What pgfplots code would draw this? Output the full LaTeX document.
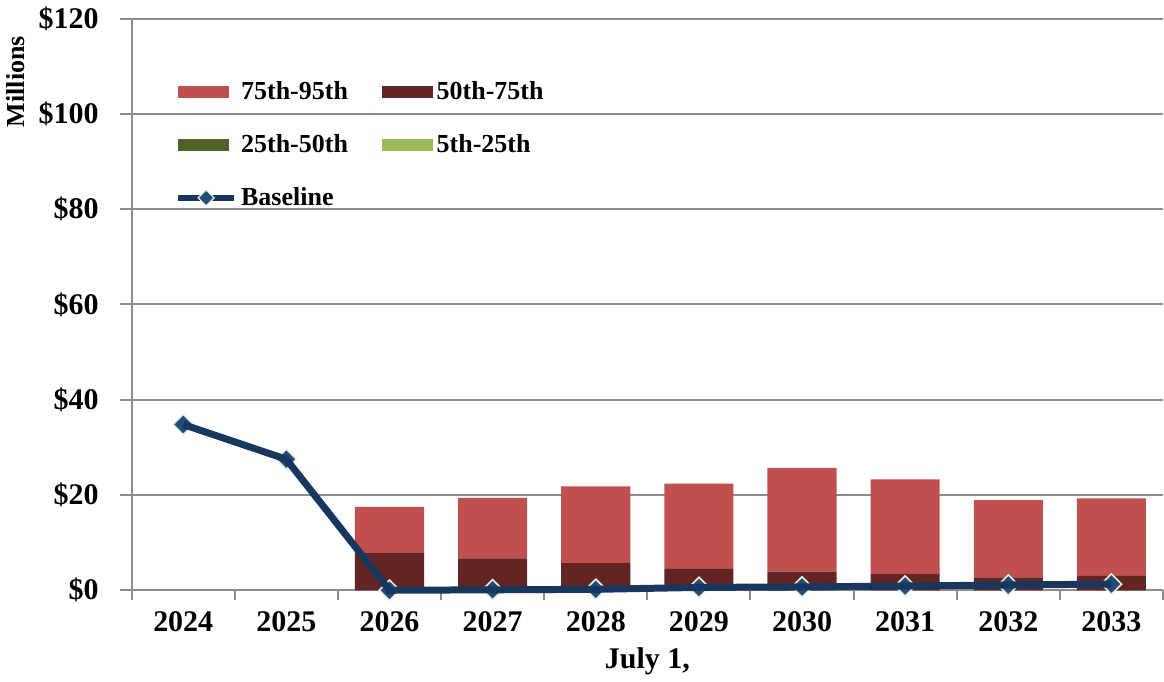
\documentclass[border=0pt]{standalone}
\usepackage{fontspec}
\setmainfont{Liberation Serif}
\usepackage{pgfplots}
\pgfplotsset{compat=1.18}
\definecolor{cA}{HTML}{C0504D}
\definecolor{cB}{HTML}{632523}
\definecolor{cC}{HTML}{4F6228}
\definecolor{cD}{HTML}{9BBB59}
\definecolor{cLine}{HTML}{17375E}
\definecolor{cMark}{HTML}{1F4E79}
\definecolor{cEdge}{HTML}{EEECE1}
\definecolor{cGrid}{HTML}{8C8C8C}
\begin{document}
\begin{tikzpicture}
\begin{axis}[
  set layers,
  scale only axis, width=516pt, height=286pt,
  xmin=-0.5, xmax=9.5, ymin=0, ymax=120,
  axis x line=bottom, axis y line=left,
  axis line style={draw=cGrid, line width=1pt, -},
  ytick={0,20,...,120},
  yticklabels={\$0,\$20,\$40,\$60,\$80,\$100,\$120},
  xtick={0,...,9},
  xticklabels={2024,2025,2026,2027,2028,2029,2030,2031,2032,2033},
  minor xtick={-0.5,0.5,...,9.5},
  major x tick style={draw=none},
  minor x tick style={draw=cGrid, line width=1pt},
  major y tick style={draw=cGrid, line width=1pt},
  tick align=outside, major tick length=6pt, minor tick length=5pt,
  ymajorgrids, grid style={draw=cGrid, line width=1pt},
  every tick label/.append style={font=\fontsize{15}{18}\selectfont\bfseries},
  yticklabel style={xshift=-7pt},
  xticklabel style={yshift=-1pt},
  xlabel={July 1,},
  xlabel style={font=\fontsize{15}{18}\selectfont\bfseries, yshift=-1pt},
  ylabel={Millions},
  ylabel style={font=\fontsize{13}{16}\selectfont\bfseries, at={(ticklabel cs:0.89)}, anchor=near ticklabel},
  ybar stacked, bar width=0.67,
  legend style={at={(0.036,0.905)}, anchor=north west, draw=none, fill=none,
    font=\fontsize{13}{15}\selectfont\bfseries, legend columns=2,
    row sep=12pt, /tikz/every even column/.append style={column sep=15pt}},
  legend cell align=left,
]
\addplot[fill=cD, draw=none, forget plot] coordinates {(0,0) (1,0) (2,0) (3,0) (4,0) (5,0) (6,0) (7,0) (8,0) (9,0)};
\addplot[fill=cC, draw=none, forget plot] coordinates {(0,0) (1,0) (2,0) (3,0) (4,0) (5,0) (6,0) (7,0) (8,0) (9,0)};
\addplot[fill=cB, draw=none, forget plot] coordinates {(0,0) (1,0) (2,7.8) (3,6.7) (4,5.7) (5,4.6) (6,3.9) (7,3.4) (8,2.7) (9,3.0)};
\addplot[fill=cA, draw=none, forget plot] coordinates {(0,0) (1,0) (2,9.7) (3,12.7) (4,16.1) (5,17.8) (6,21.8) (7,19.9) (8,16.2) (9,16.3)};
\addplot[on layer=axis foreground, stack plots=false, sharp plot, cLine, line width=3.5pt, mark=square*, mark size=3.6pt,
  mark options={rotate=45, fill=cMark, draw=cEdge, line width=0.8pt}, forget plot]
  coordinates {(0,34.8) (1,27.5) (2,0) (3,0.1) (4,0.2) (5,0.6) (6,0.7) (7,0.9) (8,1.1) (9,1.3)};
\addlegendimage{legend image code/.code={\fill[cA] (0pt,-2.8pt) rectangle (25pt,2.8pt);}}
\addlegendentry{75th-95th}
\addlegendimage{legend image code/.code={\fill[cB] (0pt,-2.8pt) rectangle (25pt,2.8pt);}}
\addlegendentry{50th-75th}
\addlegendimage{legend image code/.code={\fill[cC] (0pt,-2.8pt) rectangle (25pt,2.8pt);}}
\addlegendentry{25th-50th}
\addlegendimage{legend image code/.code={\fill[cD] (0pt,-2.8pt) rectangle (25pt,2.8pt);}}
\addlegendentry{5th-25th}
\addlegendimage{legend image code/.code={\draw[cLine, line width=3pt] (0pt,0pt) -- (28pt,0pt);
  \filldraw[fill=cMark, draw=cEdge, line width=0.6pt] (14pt,-4pt) -- (18pt,0pt) -- (14pt,4pt) -- (10pt,0pt) -- cycle;}}
\addlegendentry{Baseline}
\end{axis}
\end{tikzpicture}
\end{document}
